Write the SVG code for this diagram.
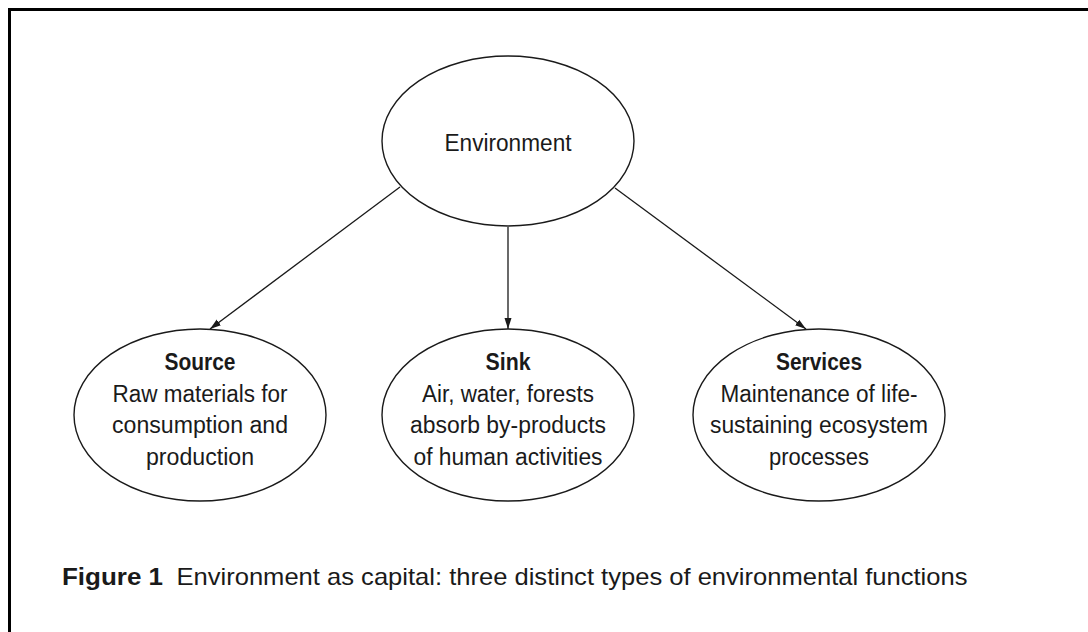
<svg xmlns="http://www.w3.org/2000/svg" width="1088" height="632" viewBox="0 0 1088 632">
<style>
.frame{fill:none;stroke:#000;stroke-width:3}
.node{fill:#fff;stroke:#1a1a1a;stroke-width:1.4}
.edge{fill:none;stroke:#1a1a1a;stroke-width:1.3}
text{font-family:"Liberation Sans Narrow","Liberation Sans",Arial,sans-serif;fill:#1a1a1a;text-anchor:middle}
.t{font-size:23px}
.b{font-size:23px;font-weight:bold}
.cap{font-size:24px;text-anchor:start}
</style>
<defs>
<marker id="arr" markerWidth="12" markerHeight="8" refX="11" refY="4" orient="auto" markerUnits="userSpaceOnUse">
<path d="M0,0.5 L11,4 L0,7.5 Z" fill="#1a1a1a"/>
</marker>
</defs>
<rect width="1088" height="632" fill="#fff"/>
<path class="frame" d="M9.5 632 V9.5 H1088"/>
<g id="connectors">
<line class="edge" x1="400" y1="187" x2="210" y2="329" marker-end="url(#arr)"/>
<line class="edge" x1="508" y1="227" x2="508" y2="329" marker-end="url(#arr)"/>
<line class="edge" x1="615" y1="188" x2="806" y2="329" marker-end="url(#arr)"/>
</g>
<g id="environment">
<ellipse class="node" cx="508" cy="141" rx="126" ry="85"/>
<text class="t" x="508" y="151" font-size="24" textLength="127" lengthAdjust="spacingAndGlyphs">Environment</text>
</g>
<g id="source">
<ellipse class="node" cx="200" cy="415" rx="126" ry="86"/>
<text class="b" x="200" y="370" textLength="71" lengthAdjust="spacingAndGlyphs">Source</text>
<text class="t" x="200" y="401.5" textLength="175" lengthAdjust="spacingAndGlyphs">Raw materials for</text>
<text class="t" x="200" y="433" textLength="176" lengthAdjust="spacingAndGlyphs">consumption and</text>
<text class="t" x="200" y="465" textLength="108" lengthAdjust="spacingAndGlyphs">production</text>
</g>
<g id="sink">
<ellipse class="node" cx="508" cy="415" rx="126" ry="86"/>
<text class="b" x="508" y="370" textLength="45" lengthAdjust="spacingAndGlyphs">Sink</text>
<text class="t" x="508" y="401.5" textLength="172" lengthAdjust="spacingAndGlyphs">Air, water, forests</text>
<text class="t" x="508" y="433" textLength="196" lengthAdjust="spacingAndGlyphs">absorb by-products</text>
<text class="t" x="508" y="465" textLength="189" lengthAdjust="spacingAndGlyphs">of human activities</text>
</g>
<g id="services">
<ellipse class="node" cx="819" cy="415" rx="126" ry="86"/>
<text class="b" x="819" y="370" textLength="86" lengthAdjust="spacingAndGlyphs">Services</text>
<text class="t" x="819" y="401.5" textLength="197" lengthAdjust="spacingAndGlyphs">Maintenance of life-</text>
<text class="t" x="819" y="433" textLength="218" lengthAdjust="spacingAndGlyphs">sustaining ecosystem</text>
<text class="t" x="819" y="465" textLength="100" lengthAdjust="spacingAndGlyphs">processes</text>
</g>
<g id="caption">
<text class="cap" x="62" y="585" font-weight="bold" textLength="101" lengthAdjust="spacingAndGlyphs">Figure 1</text>
<text class="cap" x="176.5" y="585" textLength="791" lengthAdjust="spacingAndGlyphs">Environment as capital: three distinct types of environmental functions</text>
</g>
</svg>
